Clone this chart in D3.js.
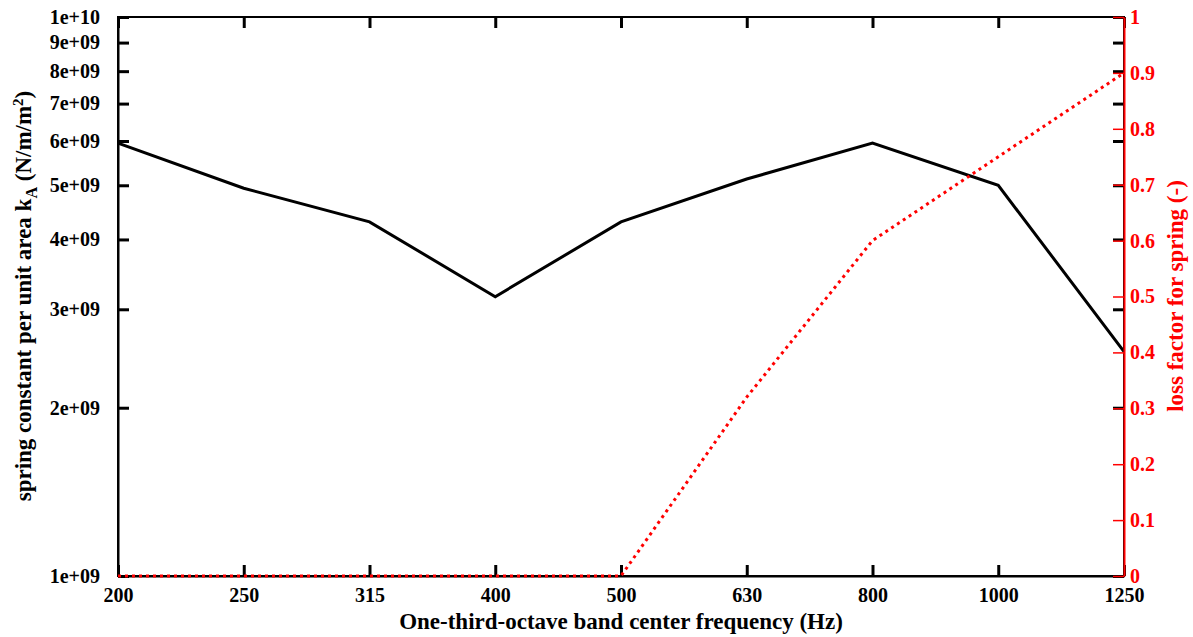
<!DOCTYPE html>
<html><head><meta charset="utf-8">
<script src="https://cdn.jsdelivr.net/npm/d3@7"></script>
<style>body{margin:0;background:#fff}svg{display:block}text{font-family:"Liberation Serif","Times New Roman",serif;font-weight:bold}</style>
</head><body><svg id="c" width="1193" height="637"></svg>
<script>
const categories = ["200","250","315","400","500","630","800","1000","1250"];
const springConstant = [5.95e9,4.94e9,4.3e9,3.16e9,4.3e9,5.13e9,5.95e9,5.0e9,2.52e9];
const lossFactor = [0,0,0,0,0,0.32,0.6,0.75,0.9];
const leftTicks = [1e9,2e9,3e9,4e9,5e9,6e9,7e9,8e9,9e9,1e10];
const leftTickLabels = ["1e+09","2e+09","3e+09","4e+09","5e+09","6e+09","7e+09","8e+09","9e+09","1e+10"];
const rightTicks = [0,0.1,0.2,0.3,0.4,0.5,0.6,0.7,0.8,0.9,1];
const rightTickLabels = ["0","0.1","0.2","0.3","0.4","0.5","0.6","0.7","0.8","0.9","1"];

const L=118,R=1124,T=17,B=576;
const svg=d3.select("#c");
const x=d3.scalePoint().domain(categories).range([L,R]);
const yL=d3.scaleLog().domain([1e9,1e10]).range([B,T]);
const yR=d3.scaleLinear().domain([0,1]).range([B,T]);
const fs=20, tfs=23;

// box
svg.append("rect").attr("x",L).attr("y",T).attr("width",R-L).attr("height",B-T)
  .attr("fill","none").attr("stroke","#000").attr("stroke-width",2);

// left axis
const gl=svg.append("g").attr("transform",`translate(${L},0)`)
  .call(d3.axisLeft(yL).tickValues(leftTicks).tickFormat((d,i)=>leftTickLabels[i]).tickSizeInner(-11).tickSizeOuter(0).tickPadding(7));
gl.select(".domain").attr("stroke-width",2);
gl.selectAll(".tick line").attr("stroke-width",3);
gl.selectAll(".tick text").attr("font-size",fs).attr("fill","#000").attr("font-family","Liberation Serif").attr("font-weight","bold").attr("dx","-11");
// mirrored left ticks on right side
const glr=svg.append("g").attr("transform",`translate(${R},0)`)
  .call(d3.axisRight(yL).tickValues(leftTicks).tickFormat("").tickSizeInner(-11).tickSizeOuter(0));
glr.select(".domain").remove();
glr.selectAll(".tick line").attr("stroke-width",3);

// bottom axis
const gb=svg.append("g").attr("transform",`translate(0,${B})`)
  .call(d3.axisBottom(x).tickSizeInner(-11).tickSizeOuter(0).tickPadding(8));
gb.select(".domain").attr("stroke-width",2);
gb.selectAll(".tick line").attr("stroke-width",3);
gb.selectAll(".tick text").attr("font-size",fs).attr("fill","#000").attr("font-family","Liberation Serif").attr("font-weight","bold").attr("dy","0.9em");
// top ticks
const gt=svg.append("g").attr("transform",`translate(0,${T})`)
  .call(d3.axisTop(x).tickFormat("").tickSizeInner(-11).tickSizeOuter(0));
gt.select(".domain").remove();
gt.selectAll(".tick line").attr("stroke-width",3);

// data lines
const lineK=d3.line().x((d,i)=>x(categories[i])).y(d=>yL(d));
svg.append("path").datum(springConstant).attr("d",lineK).attr("fill","none")
  .attr("stroke","#000").attr("stroke-width",3).attr("stroke-linejoin","miter");
const lineE=d3.line().x((d,i)=>x(categories[i])).y(d=>yR(d));
svg.append("path").datum(lossFactor).attr("d",lineE).attr("fill","none")
  .attr("stroke","#ff0000").attr("stroke-width",3).attr("stroke-dasharray","3,4");

// right axis (red)
const gr=svg.append("g").attr("transform",`translate(${R},0)`)
  .call(d3.axisRight(yR).tickValues(rightTicks).tickFormat((d,i)=>rightTickLabels[i]).tickSizeInner(-11).tickSizeOuter(0).tickPadding(7));
gr.select(".domain").attr("stroke","#ff0000").attr("stroke-width",2);
gr.selectAll(".tick line").attr("stroke","#ff0000").attr("stroke-width",1.5);
gr.selectAll(".tick text").attr("font-size",fs).attr("fill","#ff0000").attr("font-family","Liberation Serif").attr("font-weight","bold").attr("dx","-1");

// titles
svg.append("text").attr("x",621).attr("y",629).attr("text-anchor","middle").attr("font-size",tfs).attr("fill","#000")
  .text("One-third-octave band center frequency (Hz)");
const yt=svg.append("text").attr("transform","translate(31,296) rotate(-90)").attr("text-anchor","middle").attr("font-size",tfs).attr("fill","#000");
yt.append("tspan").text("spring constant per unit area k");
yt.append("tspan").attr("font-size",16).attr("dy",6).text("A");
yt.append("tspan").attr("dy",-6).text(" (N/m/m");
yt.append("tspan").attr("font-size",15).attr("dy",-8).text("2");
yt.append("tspan").attr("dy",8).text(")");
svg.append("text").attr("transform","translate(1183,296) rotate(-90)").attr("text-anchor","middle").attr("font-size",tfs).attr("fill","#ff0000")
  .text("loss factor for spring (-)");
</script></body></html>
